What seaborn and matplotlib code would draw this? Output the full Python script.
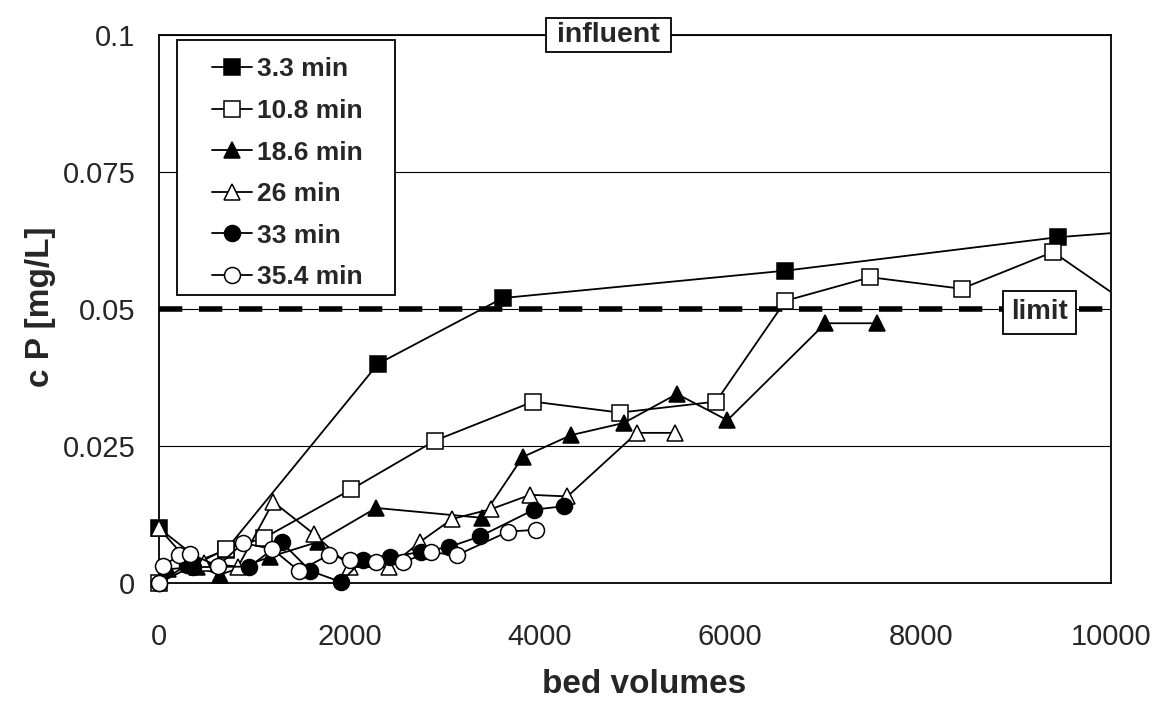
import matplotlib
matplotlib.use("Agg")
import matplotlib.pyplot as plt
from matplotlib.patches import Rectangle
import seaborn as sns

# Phosphorus breakthrough curves for different empty bed contact times
labels = ["3.3 min", "10.8 min", "18.6 min", "26 min", "33 min", "35.4 min"]

bv_3_3 = [0, 330, 700, 2300, 3610, 6580, 9440, 12000]
cp_3_3 = [0.0100, 0.0035, 0.0060, 0.0400, 0.0520, 0.0570, 0.0631, 0.0665]

bv_10_8 = [0, 700, 1100, 2020, 2900, 3930, 4840, 5850, 6580, 7470, 8430, 9390, 11000]
cp_10_8 = [0.0, 0.0062, 0.0082, 0.0171, 0.0260, 0.0331, 0.0311, 0.0331, 0.0515,
           0.0558, 0.0537, 0.0604, 0.0411]

bv_18_6 = [90, 400, 640, 1170, 1670, 2280, 3390, 3820, 4330, 4880, 5440, 5970, 7000, 7540]
cp_18_6 = [0.0025, 0.0030, 0.0015, 0.0048, 0.0075, 0.0137, 0.0119, 0.0230, 0.0270,
           0.0292, 0.0345, 0.0297, 0.0474, 0.0474]

bv_26 = [0, 470, 830, 1200, 1630, 2010, 2420, 2740, 3080, 3490, 3900, 4290, 5020, 5420]
cp_26 = [0.0100, 0.0036, 0.0030, 0.0148, 0.0089, 0.0029, 0.0029, 0.0075, 0.0117,
         0.0135, 0.0161, 0.0158, 0.0274, 0.0274]

bv_33 = [0, 290, 360, 950, 1290, 1590, 1910, 2140, 2430, 2750, 3050, 3370, 3940, 4250]
cp_33 = [0.0, 0.0033, 0.0029, 0.0030, 0.0074, 0.0022, 0.0002, 0.0042, 0.0047,
         0.0057, 0.0066, 0.0085, 0.0134, 0.0140]

bv_35_4 = [0, 45, 210, 330, 620, 880, 1190, 1470, 1780, 2010, 2280, 2560, 2860,
           3130, 3670, 3960]
cp_35_4 = [0.0, 0.0031, 0.0051, 0.0053, 0.0031, 0.0073, 0.0062, 0.0022, 0.0051,
           0.0042, 0.0039, 0.0039, 0.0056, 0.0051, 0.0094, 0.0097]

x_ticks = [0, 2000, 4000, 6000, 8000, 10000]
y_ticks = [0, 0.025, 0.05, 0.075, 0.1]
y_tick_labels = ["0", "0.025", "0.05", "0.075", "0.1"]
limit_value = 0.05

series = [
    (bv_3_3, cp_3_3, "s", "black"),
    (bv_10_8, cp_10_8, "s", "white"),
    (bv_18_6, cp_18_6, "^", "black"),
    (bv_26, cp_26, "^", "white"),
    (bv_33, cp_33, "o", "black"),
    (bv_35_4, cp_35_4, "o", "white"),
]

sns.set_style("white")
plt.rcParams["font.family"] = ["Liberation Sans", "DejaVu Sans"]

fig = plt.figure(figsize=(11.61, 7.13), dpi=100)
ax = fig.add_axes([0.137, 0.1823, 0.820, 0.7686])

# horizontal grid and the limit line
for yv in y_ticks[1:]:
    ax.axhline(yv, color="black", linewidth=0.8, zorder=1)
ax.axhline(limit_value, color="black", linewidth=4, linestyle=(0, (4.2, 3.0)), zorder=2)

# markers on the left and bottom edges stay whole; lines stop at the right edge
clip_rect = Rectangle((-0.04, -0.05), 1.04, 1.10, transform=ax.transAxes)

for (bv, cp, mk, fc), lab in zip(series, labels):
    sns.lineplot(x=bv, y=cp, ax=ax, sort=False, estimator=None, color="black",
                 linewidth=1.3, marker=mk, markersize=12 if mk != "o" else 11.5,
                 markerfacecolor=fc, markeredgecolor="black", markeredgewidth=1.1,
                 label=lab, zorder=3)
    ax.lines[-1].set_clip_path(clip_rect)

ax.set_xlim(0, 10000)
ax.set_ylim(0, 0.1)
ax.set_xticks(x_ticks)
ax.set_xticklabels([str(t) for t in x_ticks])
ax.set_yticks(y_ticks)
ax.set_yticklabels(y_tick_labels)
ax.tick_params(axis="both", labelsize=21, direction="out", length=7, width=1,
               color="black")
ax.tick_params(axis="y", pad=10)
ax.tick_params(axis="x", pad=22)

for sp in ax.spines.values():
    sp.set_visible(True)
    sp.set_color("black")
    sp.set_linewidth(1.3)

ax.set_xlabel("bed volumes", fontsize=24, fontweight="bold")
ax.xaxis.label.set_va("center")
ax.xaxis.set_label_coords(0.51, -0.186)
ax.set_ylabel("c P [mg/L]", fontsize=24, fontweight="bold")
ax.yaxis.label.set_va("center")
ax.yaxis.set_label_coords(-0.125, 0.504)

# "influent" tag sitting on the top edge
ax.add_patch(Rectangle((4066, 0.0969), 1312, 0.0062, facecolor="white",
                       edgecolor="black", linewidth=1.3, zorder=5, clip_on=False))
ax.text(4722, 0.1, "influent", ha="center", va="center", fontsize=20.5,
        fontweight="bold", zorder=6, clip_on=False)

box_lim = dict(boxstyle="square,pad=0.3", facecolor="white", edgecolor="black", linewidth=1.3)
ax.text(9250, 0.0494, "limit", ha="center", va="center", fontsize=20,
        fontweight="bold", bbox=box_lim, zorder=5)

# legend entries without matplotlib's frame; the box is drawn separately
leg = ax.legend(loc="upper left", bbox_to_anchor=(0.0557, 0.959), frameon=False,
                prop={"size": 19, "weight": "bold"}, handlelength=1.5,
                handletextpad=0.2, labelspacing=0.665, borderpad=0,
                borderaxespad=0)
leg.set_zorder(7)
ax.add_patch(Rectangle((0.0189, 0.5255), 0.229, 0.4654, transform=ax.transAxes,
                       facecolor="white", edgecolor="black", linewidth=1.3,
                       zorder=6, clip_on=False))

fig.savefig("out.png", dpi=100)
